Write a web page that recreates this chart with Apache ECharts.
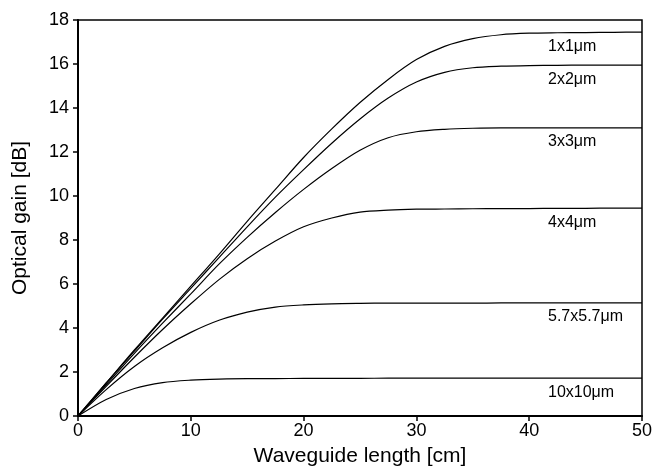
<!DOCTYPE html>
<html lang="en">
<head>
    <meta charset="utf-8" />
    <title>Optical gain</title>
    <script src="https://cdn.jsdelivr.net/npm/echarts@6/dist/echarts.min.js"></script>
</head>
<body style="margin:0">
    <div id="main" style="width:652px;height:468px"></div>
    <script>
        // waveguide length [cm]
        var lengths = [0, 2.5, 5, 7.5, 10, 12.5, 15, 17.5, 20, 22.5, 25, 27.5, 30, 32.5, 35, 37.5, 40, 42.5, 45, 47.5, 50];
        // optical gain [dB] per cross-section
        var gain1 = [0, 1.5, 3.0, 4.45, 5.9, 7.35, 8.85, 10.3, 11.75, 13.05, 14.25, 15.3, 16.2, 16.8, 17.15, 17.33, 17.4, 17.42, 17.43, 17.44, 17.45];
        var gain2 = [0, 1.5, 2.95, 4.4, 5.8, 7.2, 8.6, 9.95, 11.2, 12.4, 13.5, 14.45, 15.18, 15.62, 15.83, 15.9, 15.93, 15.94, 15.95, 15.95, 15.95];
        var gain3 = [0, 1.42, 2.85, 4.22, 5.55, 6.9, 8.12, 9.25, 10.3, 11.25, 12.08, 12.65, 12.92, 13.03, 13.08, 13.1, 13.1, 13.1, 13.1, 13.1, 13.1];
        var gain4 = [0, 1.35, 2.67, 3.93, 5.1, 6.2, 7.15, 7.95, 8.6, 9.0, 9.27, 9.36, 9.4, 9.41, 9.42, 9.43, 9.43, 9.44, 9.44, 9.45, 9.45];
        var gain57 = [0, 1.2, 2.25, 3.1, 3.8, 4.35, 4.72, 4.95, 5.05, 5.1, 5.12, 5.13, 5.13, 5.13, 5.13, 5.14, 5.14, 5.14, 5.14, 5.14, 5.14];
        var gain10 = [0, 0.75, 1.25, 1.52, 1.63, 1.68, 1.7, 1.7, 1.71, 1.71, 1.71, 1.72, 1.72, 1.72, 1.72, 1.72, 1.72, 1.72, 1.72, 1.72, 1.72];
        var names = ['1x1\u03bcm', '2x2\u03bcm', '3x3\u03bcm', '4x4\u03bcm', '5.7x5.7\u03bcm', '10x10\u03bcm'];
        var gains = [gain1, gain2, gain3, gain4, gain57, gain10];

        var font = 'Liberation Sans, Arial, sans-serif';
        var myChart = echarts.init(document.getElementById('main'));

        var series = gains.map(function (g, i) {
            return {
                name: names[i],
                type: 'line',
                smooth: 0.3,
                symbol: 'none',
                lineStyle: { color: '#000', width: 1.2 },
                data: lengths.map(function (x, k) { return [x, g[k]]; }),
                endLabel: {
                    show: true,
                    formatter: '{a}',
                    color: '#000',
                    fontSize: 16,
                    fontFamily: font,
                    align: 'left',
                    offset: [-102, 14]
                }
            };
        });

        var option = {
            animation: false,
            backgroundColor: '#fff',
            grid: {
                left: 78, right: 10, top: 20, bottom: 52,
                outerBoundsMode: 'none',
                containLabel: false,
                show: true, borderColor: '#000', borderWidth: 1.5
            },
            xAxis: {
                type: 'value',
                min: 0, max: 50, interval: 10,
                name: 'Waveguide length [cm]',
                nameLocation: 'middle',
                nameGap: 30,
                nameTextStyle: { color: '#000', fontSize: 21, fontFamily: font },
                axisLine: { lineStyle: { color: '#000', width: 2 } },
                axisTick: { inside: false, length: 5, lineStyle: { color: '#000', width: 1.5 } },
                axisLabel: { color: '#000', fontSize: 18, fontFamily: font, margin: 6 },
                splitLine: { show: false }
            },
            yAxis: {
                type: 'value',
                min: 0, max: 18, interval: 2,
                name: 'Optical gain [dB]',
                nameLocation: 'middle',
                nameGap: 47,
                nameTextStyle: { color: '#000', fontSize: 21, fontFamily: font },
                axisLine: { lineStyle: { color: '#000', width: 2 } },
                axisTick: { inside: false, length: 5, lineStyle: { color: '#000', width: 1.5 } },
                axisLabel: { color: '#000', fontSize: 18, fontFamily: font, margin: 9 },
                splitLine: { show: false }
            },
            series: series
        };
        myChart.setOption(option);
    </script>
</body>
</html>
